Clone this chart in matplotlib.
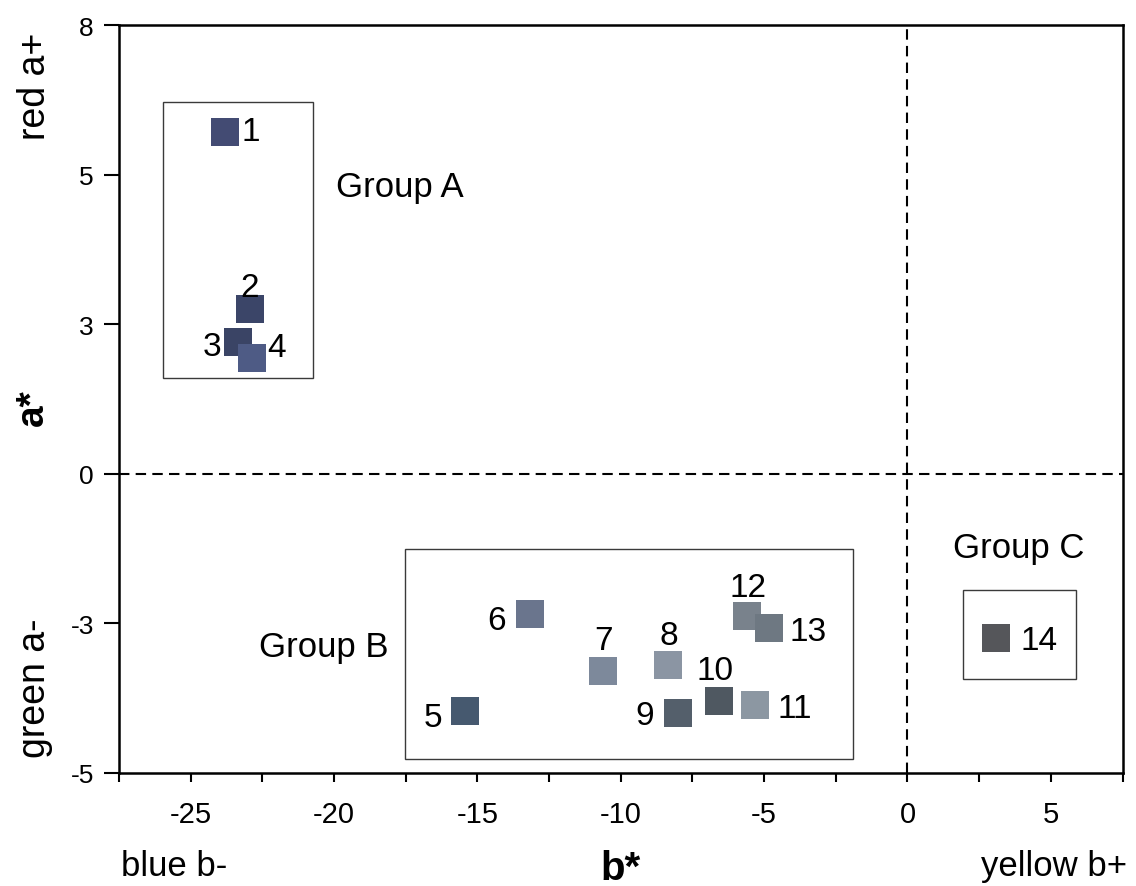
import numpy as np
import matplotlib
matplotlib.use("Agg")
import matplotlib.pyplot as plt
from matplotlib.patches import Rectangle
from matplotlib.ticker import MultipleLocator

plt.rcParams['font.family'] = ['Liberation Sans', 'DejaVu Sans']
plt.rcParams['axes.unicode_minus'] = False

# sample numbers and CIELab coordinates
sample_ids = [str(i) for i in range(1, 15)]
b_star = [-23.82, -22.93, -23.35, -22.87, -15.43, -13.16, -10.61,
          -8.34, -8.02, -6.56, -5.31, -5.59, -4.82, 3.09]
a_star = [5.72, 2.75, 2.20, 1.93, -3.97, -2.35, -3.30,
          -3.19, -3.99, -3.79, -3.87, -2.37, -2.57, -2.74]
sample_colors = ['#434b73', '#3b4568', '#3a4465', '#4e5b85', '#46596f',
                 '#6a758d', '#7d899b', '#8b95a3', '#545f6b', '#4f5861',
                 '#8c97a2', '#79828c', '#6e7882', '#55565a']

# group names, boxes (b0, b1, a0, a1) and label anchors (b, a)
group_names = ['Group A', 'Group B', 'Group C']
group_boxes = [(-25.96, -20.74, 1.60, 6.22),
               (-17.51, -1.89, -4.76, -1.25),
               (1.93, 5.88, -3.43, -1.95)]
group_text_at = [(-19.92, 4.65), (-22.63, -3.05), (1.60, -1.39)]

y_ticks = [-5, -2.5, 0, 2.5, 5, 7.5]
y_tick_labels = ['-5', '-3', '0', '3', '5', '8']
x_ticks = [-25, -20, -15, -10, -5, 0, 5]

# label offsets in pixels (dx, dy up) from marker centre to digit centre
label_offsets = [(26.5, 3.3), (0, 25), (-26, -0.5), (25, 14), (-32, -3),
                 (-34, -2.5), (0, 34.5), (0, 32.5), (-32.5, 0.7), (-4, 34),
                 (40, 0.7), (1, 32), (39, 0), (43.5, 0.7)]

fig = plt.figure(figsize=(11.36, 8.87), dpi=100)
ax = fig.add_axes([119 / 1136, 1 - 774 / 887, (1122.5 - 119) / 1136, (774 - 26) / 887])

ax.axhline(0, color='black', lw=1.5, ls=(0, (5, 3)), zorder=1)
ax.axvline(0, color='black', lw=1.5, ls=(0, (5, 3)), zorder=1)

for (b0, b1, a0, a1) in group_boxes:
  ax.add_patch(Rectangle((b0, a0), b1 - b0, a1 - a0, fill=False,
                         edgecolor='#3a3a3a', lw=1.0, zorder=2))

for name, (bx, ay) in zip(group_names, group_text_at):
  ax.text(bx, ay, name, fontsize=25, ha='left', va='baseline', zorder=4)

for i in range(len(sample_ids)):
  ax.scatter(b_star[i], a_star[i], marker='s', s=400, color=sample_colors[i],
             linewidths=0, zorder=3)
  dx, dy = label_offsets[i]
  ax.annotate(sample_ids[i], (b_star[i], a_star[i]), xytext=(dx, dy - 12),
              textcoords='offset pixels', ha='center', va='baseline',
              fontsize=24, zorder=4)

ax.set_xlim(-27.5, 7.5)
ax.set_ylim(-5, 7.5)
ax.set_xticks(x_ticks)
ax.xaxis.set_minor_locator(MultipleLocator(2.5))
ax.set_yticks(y_ticks)
ax.set_yticklabels(y_tick_labels)

ax.tick_params(axis='x', which='both', direction='out', length=6.5, width=1.5,
               labelsize=21, pad=13)
ax.tick_params(axis='y', which='major', direction='out', length=10.5, width=1.5,
               labelsize=19, pad=7.5)
for sp in ax.spines.values():
  sp.set_linewidth(1.8)

fig.text(35 / 1136, 1 - 86 / 887, 'red a+', rotation=90, fontsize=27,
         ha='center', va='center')
fig.text(35 / 1136, 1 - 688 / 887, 'green a-', rotation=90, fontsize=27,
         ha='center', va='center')
fig.text(33 / 1136, 1 - 408 / 887, 'a*', rotation=90, fontsize=28,
         fontweight='bold', ha='center', va='center')
fig.text(121 / 1136, 1 - 876 / 887, 'blue b-', fontsize=25, ha='left', va='baseline')
fig.text(1127 / 1136, 1 - 876 / 887, 'yellow b+', fontsize=25, ha='right', va='baseline')
fig.text(621 / 1136, 1 - 880 / 887, 'b*', fontsize=29, fontweight='bold',
         ha='center', va='baseline')

fig.savefig('out.png', dpi=100, facecolor='white')
